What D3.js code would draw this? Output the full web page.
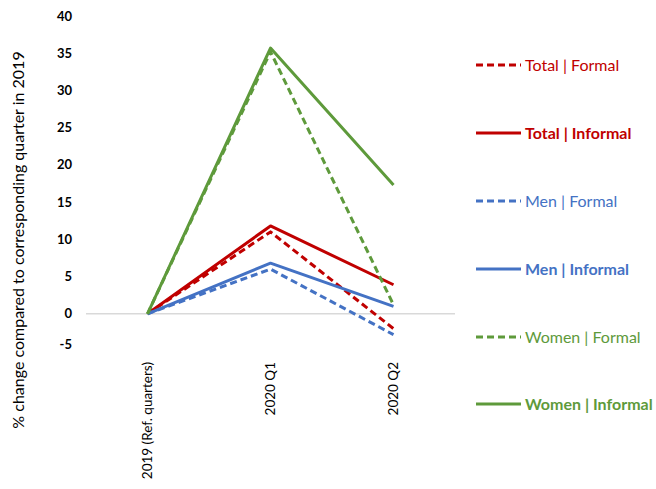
<!DOCTYPE html>
<html><head><meta charset="utf-8">
<script src="https://cdn.jsdelivr.net/npm/d3@7"></script>
<style>body{margin:0;background:#fff}svg{display:block}</style>
</head><body>
<svg id="c" width="656" height="489"></svg>
<script>
const categories = ["2019 (Ref. quarters)", "2020 Q1", "2020 Q2"];
const seriesNames = ["Total | Formal", "Total | Informal", "Men | Formal", "Men | Informal", "Women | Formal", "Women | Informal"];
const totalFormal = [0, 11.0, -2.0];
const totalInformal = [0, 11.8, 3.9];
const menFormal = [0, 6.0, -2.8];
const menInformal = [0, 6.8, 1.0];
const womenFormal = [0, 35.2, 1.2];
const womenInformal = [0, 35.7, 17.3];
const yTicks = [-5, 0, 5, 10, 15, 20, 25, 30, 35, 40];
const colors = ["#C00000", "#C00000", "#4472C4", "#4472C4", "#5E9A3B", "#5E9A3B"];
const dashed = [true, false, true, false, true, false];

const values = [totalFormal, totalInformal, menFormal, menInformal, womenFormal, womenInformal];
const svg = d3.select("#c");
const font = "Lato, 'Open Sans', sans-serif";

const x = d3.scalePoint().domain(categories).range([147.5, 393.5]);
const y = d3.scaleLinear().domain([-5, 40]).range([351, 16]);
const step = x.step();

// zero line
svg.append("line").attr("x1", x(categories[0]) - step/2).attr("x2", x(categories[2]) + step/2)
  .attr("y1", y(0)).attr("y2", y(0)).attr("stroke", "#d9d9d9").attr("stroke-width", 1.5);

// y tick labels
svg.append("g").selectAll("text").data(yTicks).join("text")
  .attr("x", 72).attr("y", d => y(d) + (d === -5 ? -7 : 0)).attr("dy", "0.35em")
  .attr("text-anchor", "end").attr("font-family", font).attr("font-size", 13)
  .attr("font-weight", "bold").attr("fill", "#000").text(d => d);

// y title
svg.append("text").attr("transform", "translate(18,240) rotate(-90)")
  .attr("text-anchor", "middle").attr("dy", "0.35em").attr("font-family", font).attr("font-size", 16)
  .attr("fill", "#000").text("% change compared to corresponding quarter in 2019");

// category labels
svg.append("g").selectAll("text").data(categories).join("text")
  .attr("transform", d => `translate(${x(d)},362) rotate(-90)`)
  .attr("dy", "0.35em").attr("text-anchor", "end").attr("font-family", font)
  .attr("font-size", 13.5).attr("fill", "#000").text(d => d);

// lines
const line = d3.line().x((d, i) => x(categories[i])).y(d => y(d));
values.forEach((v, k) => {
  svg.append("path").datum(v).attr("d", line).attr("fill", "none")
    .attr("stroke", colors[k]).attr("stroke-width", 3)
    .attr("stroke-dasharray", dashed[k] ? "7,4" : null)
    .attr("stroke-linejoin", "round");
});

// legend
const legY = [65, 133, 201, 269, 337, 404];
seriesNames.forEach((n, k) => {
  const g = svg.append("g").attr("transform", `translate(0,${legY[k]})`);
  g.append("line").attr("x1", 476).attr("x2", 521).attr("y1", 0).attr("y2", 0)
    .attr("stroke", colors[k]).attr("stroke-width", 3)
    .attr("stroke-dasharray", dashed[k] ? "7,4" : null);
  g.append("text").attr("x", 525).attr("dy", "0.35em").attr("font-family", font)
    .attr("font-size", 16).attr("font-weight", dashed[k] ? "normal" : "bold")
    .attr("fill", colors[k]).text(n);
});
</script>
</body></html>
